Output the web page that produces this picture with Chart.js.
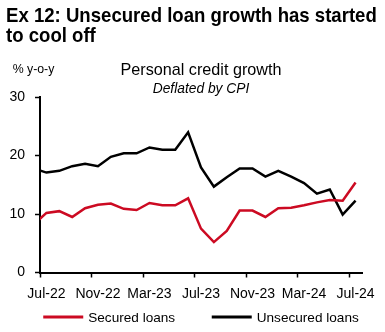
<!DOCTYPE html>
<html>
<head>
<meta charset="utf-8">
<script src="https://cdn.jsdelivr.net/npm/chart.js@4"></script>
<style>
  html, body { margin: 0; padding: 0; background: #fff; }
  body { width: 385px; height: 332px; position: relative; overflow: hidden;
         font-family: "Liberation Sans", Arial, sans-serif; color: #000; }
  #chartBox { position: absolute; left: 0; top: 0; width: 385px; height: 332px; }
  #heading { position: absolute; left: 5.5px; top: 4.6px; font-weight: bold;
             font-size: 20.1px; line-height: 20px; white-space: nowrap;
             transform: scaleX(0.925); transform-origin: 0 0; }
  #unit { position: absolute; left: 12.7px; top: 63.3px; font-size: 12.3px;
          line-height: 12px; white-space: nowrap; }
</style>
</head>
<body>
<div id="chartBox"><canvas id="chart" width="385" height="332"></canvas></div>
<div id="heading">Ex 12: Unsecured loan growth has started<br>to cool off</div>
<div id="unit">% y-o-y</div>
<script>
// Monthly real (CPI-deflated) personal credit growth, % y-o-y
const months = ['Jun-22', 'Jul-22', 'Aug-22', 'Sep-22', 'Oct-22', 'Nov-22', 'Dec-22',
  'Jan-23', 'Feb-23', 'Mar-23', 'Apr-23', 'May-23', 'Jun-23', 'Jul-23', 'Aug-23',
  'Sep-23', 'Oct-23', 'Nov-23', 'Dec-23', 'Jan-24', 'Feb-24', 'Mar-24', 'Apr-24',
  'May-24', 'Jun-24', 'Jul-24'];
const securedLoans = [8.2, 10.2, 10.5, 9.5, 11.0, 11.6, 11.8, 10.9, 10.7, 11.9, 11.5,
  11.5, 12.7, 7.5, 5.2, 7.1, 10.6, 10.6, 9.5, 11.0, 11.1, 11.5, 12.0, 12.4, 12.3, 15.4];
const unsecuredLoans = [17.8, 17.1, 17.4, 18.2, 18.6, 18.2, 19.8, 20.4, 20.4, 21.4, 21.0,
  21.0, 24.0, 18.0, 14.7, 16.3, 17.8, 17.8, 16.4, 17.4, 16.4, 15.3, 13.5, 14.2, 9.9, 12.3];
const tickLabels = ['Jul-22', 'Nov-22', 'Mar-23', 'Jul-23', 'Nov-23', 'Mar-24', 'Jul-24'];
const firstMonth = 'Jul-22';
const yMin = 0, yMax = 30, yStep = 10;

const FONT = '"Liberation Sans", Arial, sans-serif';
const RED = '#cc0a22';
const BLACK = '#000000';

// Line-style legend drawn under the x axis, centred on the plot area
const lineLegend = {
  id: 'lineLegend',
  afterDraw(chart) {
    const { ctx, chartArea } = chart;
    const size = 13.6, swatch = 40, gap = 5, spacing = 36.6, y = 317;
    ctx.save();
    ctx.font = size + 'px ' + FONT;
    const items = chart.data.datasets.map(ds => ({
      text: ds.label, color: ds.borderColor, w: ctx.measureText(ds.label).width
    }));
    const total = items.reduce((s, it) => s + swatch + gap + it.w, 0) + spacing * (items.length - 1);
    let x = (chartArea.left + chartArea.right) / 2 - total / 2;
    items.forEach(it => {
      ctx.strokeStyle = it.color;
      ctx.lineWidth = 3;
      ctx.beginPath();
      ctx.moveTo(x, y);
      ctx.lineTo(x + swatch, y);
      ctx.stroke();
      ctx.fillStyle = '#000';
      ctx.textBaseline = 'alphabetic';
      ctx.textAlign = 'left';
      ctx.fillText(it.text, x + swatch + gap, y + 4.7);
      x += swatch + gap + it.w + spacing;
    });
    ctx.restore();
  }
};

new Chart(document.getElementById('chart'), {
  type: 'line',
  data: {
    labels: months,
    datasets: [
      { label: 'Secured loans', data: securedLoans, borderColor: RED, borderWidth: 2.5,
        pointRadius: 0, tension: 0, fill: false,
        clip: { left: 0, top: false, right: false, bottom: false } },
      { label: 'Unsecured loans', data: unsecuredLoans, borderColor: BLACK, borderWidth: 2.5,
        pointRadius: 0, tension: 0, fill: false,
        clip: { left: 0, top: false, right: false, bottom: false } }
    ]
  },
  options: {
    responsive: false,
    animation: false,
    devicePixelRatio: 1,
    layout: { padding: { top: 61, left: 0, right: 23, bottom: 22.1 } },
    plugins: {
      legend: { display: false },
      tooltip: { enabled: false },
      title: {
        display: true, text: 'Personal credit growth', fullSize: false, color: '#000',
        font: { family: FONT, size: 16.2, weight: 'normal', lineHeight: 1.2 },
        padding: { top: 0, bottom: 0 }
      },
      subtitle: {
        display: true, text: 'Deflated by CPI', fullSize: false, color: '#000',
        font: { family: FONT, size: 13.8, style: 'italic', weight: 'normal', lineHeight: 1.2 },
        padding: { top: 0, bottom: 0.2 }
      }
    },
    scales: {
      x: {
        type: 'category',
        min: firstMonth,
        offset: true,
        border: { color: '#000', width: 2 },
        grid: {
          offset: true, drawOnChartArea: false, drawTicks: true, tickLength: 5, tickWidth: 1.5,
          tickColor: ctx => (ctx.index !== undefined && ctx.index % 4 === 0) ? '#000' : 'rgba(0,0,0,0)'
        },
        ticks: {
          autoSkip: false, maxRotation: 0, minRotation: 0, padding: 7.8, color: '#000',
          font: { family: FONT, size: 14 },
          callback(value) {
            const lbl = this.getLabelForValue(value);
            return tickLabels.includes(lbl) ? lbl : '';
          }
        }
      },
      y: {
        min: yMin, max: yMax,
        border: { color: '#000', width: 2 },
        grid: { drawOnChartArea: false, drawTicks: true, tickLength: 5, tickWidth: 1.5, tickColor: '#000' },
        ticks: { stepSize: yStep, padding: 10, color: '#000', font: { family: FONT, size: 14 } },
        afterFit(scale) { scale.width = 40; }
      }
    }
  },
  plugins: [lineLegend]
});
</script>
</body>
</html>
